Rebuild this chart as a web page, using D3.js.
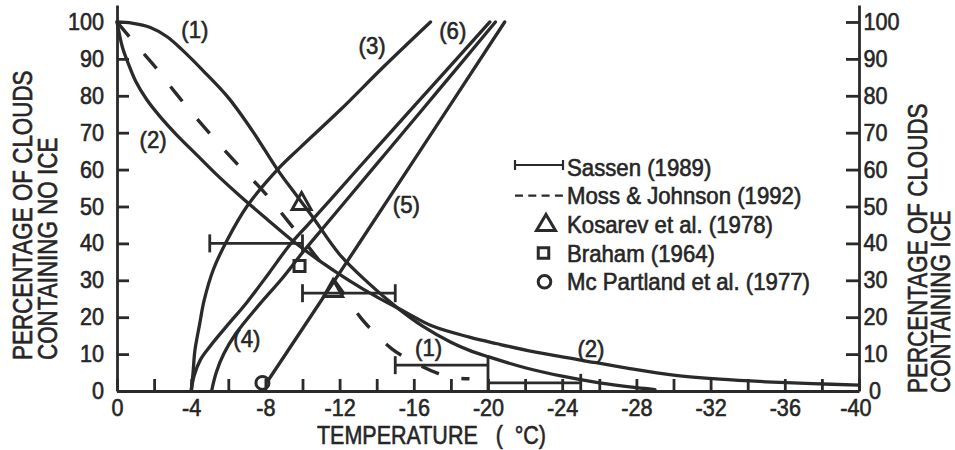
<!DOCTYPE html>
<html>
<head>
<meta charset="utf-8">
<script src="https://cdn.jsdelivr.net/npm/d3@7"></script>
<style>
  html, body { margin: 0; padding: 0; background: #fff; }
  #chart { width: 955px; height: 450px; }
  text { font-family: "Liberation Sans", Arial, Helvetica, sans-serif; fill: #262626; stroke: #262626; stroke-width: 0.6; }
</style>
</head>
<body>
<div id="chart"></div>
<script>
// [temperature °C, percentage]
const curve1 = [[0, 100], [-0.8, 99.7], [-1.8, 98.5], [-2.7, 96], [-3.5, 92.5], [-4.7, 86.5], [-6, 79.5], [-7.3, 70.5], [-8.65, 60], [-9.6, 53.5], [-10.5, 47.5], [-12, 37], [-13.5, 29.5], [-15, 23], [-16.5, 17.5], [-18, 13.2], [-19, 11], [-20, 9.3], [-22, 6.3], [-24, 4], [-26, 2.2], [-28, 0.9], [-29, 0.4]]
const curve2 = [[0, 100], [-0.3, 93], [-0.55, 89.5], [-1, 84], [-1.6, 79], [-2.3, 74.5], [-3.2, 69.5], [-4.3, 64], [-5.4, 58.5], [-6.6, 53], [-8.1, 46.5], [-9.4, 41], [-11, 35], [-12.5, 30], [-14, 25.5], [-15.5, 21.5], [-17, 17.6], [-19, 14.6], [-20.5, 12.8], [-22.5, 10.6], [-25, 8.4], [-27.5, 6.2], [-30, 4.3], [-32.5, 3.2], [-35, 2.5], [-37.5, 2], [-40, 1.6]]
const curve3 = [[-4, 0], [-4.1, 5], [-4.2, 11], [-4.45, 18], [-4.7, 24.6], [-5.2, 33], [-5.95, 41], [-7, 50], [-8.65, 60], [-9.9, 66.1], [-12, 76], [-14.4, 88], [-16.9, 100]]
const curve4 = [[-5.1, 0], [-5.35, 5], [-5.75, 10], [-6.4, 15.5], [-7.6, 23], [-8.9, 30.5], [-10, 37.5], [-11.2, 44.7], [-12.6, 53.1], [-14.5, 64.5], [-16.5, 76.5], [-18.5, 88.5], [-20.4, 100]]
const curve5 = [[-8.1, 2.5], [-12, 32], [-16, 62.5], [-20.9, 100]]
const curve6 = [[-4, 0], [-4.15, 4], [-4.5, 8.5], [-5, 12], [-5.9, 17.5], [-7, 24], [-8.2, 32], [-9.3, 39.5], [-10.3, 45.1], [-11.5, 51.8], [-13, 60.3], [-15, 71.5], [-17, 82.7], [-20.1, 100]]
const mossJohnson = [[0, 100], [-1, 94], [-2.2, 87], [-3.2, 80.5], [-4.7, 71.5], [-6.3, 62.5], [-8, 53.5], [-9.3, 45.5], [-10.8, 36], [-12, 28], [-13.2, 19.5], [-14.8, 11.5], [-16.3, 7], [-17.3, 4.8], [-18.2, 3.6], [-19, 3.3]]

// Sassen (1989) temperature ranges
const sassenFrom = [-5, -10, -15, -20]
const sassenTo = [-10, -15, -20, -25]
const sassenPct = [40, 26.5, 7, 2.2]

const kosarevT = [-9.95, -11.65]
const kosarevPct = [51.5, 27.9]
const brahamT = [-9.84]
const brahamPct = [33.9]
const mcPartlandT = [-7.84]
const mcPartlandPct = [2.2]

const curveLabels = ["(1)", "(2)", "(3)", "(4)", "(5)", "(6)", "(1)", "(2)"]
const curveLabelT = [-4.2, -1.95, -13.75, -7.0, -15.6, -18.1, -16.8, -25.55]
const curveLabelPct = [97.3, 67.5, 93, 13.6, 49.9, 97, 11.1, 10.8]

const legendNames = ["Sassen (1989)", "Moss & Johnson (1992)", "Kosarev et al. (1978)", "Braham (1964)", "Mc Partland et al. (1977)"]

const xTicks = d3.range(0, -41, -2)
const yTicks = d3.range(0, 101, 10)

const ink = "#2a2a2a"

const svg = d3.select("#chart").append("svg").attr("width", 955).attr("height", 450)

const x = d3.scaleLinear().domain([0, -40]).range([117, 859])
const y = d3.scaleLinear().domain([0, 104.6]).range([391, 5])

function addText(parent, px, py, str, size, sx, anchor, rotate) {
    const g = parent.append("g")
        .attr("transform", `translate(${px},${py})` + (rotate ? ` rotate(${rotate})` : "") + ` scale(${sx},1)`)
    return g.append("text").attr("text-anchor", anchor).attr("font-size", size).text(str)
}

//axes
const bottomAxis = svg.append("g").attr("transform", `translate(0,${y(0)})`)
    .call(d3.axisBottom(x).tickValues(xTicks).tickSize(-12).tickSizeOuter(0).tickPadding(8)
        .tickFormat(d => d % 4 === 0 ? String(d) : ""))
const leftAxis = svg.append("g").attr("transform", `translate(${x(0)},0)`)
    .call(d3.axisLeft(y).tickValues(yTicks).tickSize(-12).tickSizeOuter(0).tickPadding(14).tickFormat(d => String(d)))
const rightAxis = svg.append("g").attr("transform", `translate(${x(-40)},0)`)
    .call(d3.axisRight(y).tickValues(yTicks).tickSize(-13).tickSizeOuter(0).tickPadding(5).tickFormat(d => String(d)))

for (const ax of [bottomAxis, leftAxis, rightAxis]) {
    ax.attr("color", ink).attr("font-family", null).attr("font-size", null)
    ax.selectAll("path, line").attr("stroke-width", 2.8)
    ax.selectAll("text").attr("font-size", 23.5).attr("transform", "scale(0.92,1)")
}
// "-40" and the right "0" sit corner to corner, as in the original
bottomAxis.selectAll(".tick").filter(d => d === -40).select("text").attr("x", -4)
rightAxis.selectAll(".tick").filter(d => d === 0).select("text").attr("x", 11)

//curves
const line = d3.line().x(d => x(d[0])).y(d => y(d[1])).curve(d3.curveCatmullRom.alpha(0.5))
const curves = [curve1, curve2, curve3, curve4, curve5, curve6]

svg.append("g").selectAll("path")
    .data(curves)
    .join("path")
    .attr("d", line)
    .attr("fill", "none")
    .attr("stroke", ink)
    .attr("stroke-width", 3.3)
    .attr("stroke-linecap", "round")

svg.append("path")
    .attr("d", line(mossJohnson))
    .attr("fill", "none")
    .attr("stroke", ink)
    .attr("stroke-width", 3.4)
    .attr("stroke-dasharray", "19,23")

//sassen error bars
const sassen = sassenPct.map((p, i) => ({ p, a: sassenFrom[i], b: sassenTo[i] }))
const bars = svg.append("g").attr("stroke", ink).attr("stroke-width", 2.8)
bars.selectAll(".bar").data(sassen).join("line")
    .attr("x1", d => x(d.a)).attr("x2", d => x(d.b))
    .attr("y1", d => y(d.p)).attr("y2", d => y(d.p))
bars.selectAll(".capA").data(sassen).join("line")
    .attr("x1", d => x(d.a)).attr("x2", d => x(d.a))
    .attr("y1", d => y(d.p) - 9).attr("y2", d => y(d.p) + 9)
bars.selectAll(".capB").data(sassen).join("line")
    .attr("x1", d => x(d.b)).attr("x2", d => x(d.b))
    .attr("y1", d => y(d.p) - 9).attr("y2", d => y(d.p) + 9)

//markers
const tri = (cx, cy, w, h) => `M${cx},${cy - h / 2}L${cx + w / 2},${cy + h / 2}L${cx - w / 2},${cy + h / 2}Z`
const sq = (cx, cy, s) => `M${cx - s / 2},${cy - s / 2}h${s}v${s}h${-s}Z`

const marks = svg.append("g").attr("fill", "none").attr("stroke", ink).attr("stroke-width", 3)
marks.selectAll(".tri").data(kosarevT).join("path")
    .attr("d", (d, i) => tri(x(d), y(kosarevPct[i]), 19, 17))
marks.selectAll(".sq").data(brahamT).join("path")
    .attr("d", (d, i) => sq(x(d), y(brahamPct[i]), 11))
marks.selectAll(".circ").data(mcPartlandT).join("circle")
    .attr("cx", d => x(d)).attr("cy", (d, i) => y(mcPartlandPct[i])).attr("r", 6.5)

//curve labels
curveLabels.forEach((t, i) => {
    addText(svg, x(curveLabelT[i]), y(curveLabelPct[i]) + 6, t, 23, 0.965, "middle")
})

//legend
const lg = svg.append("g")
const legX = 515, legW = 48, textX = 567, rowY0 = 167, rowGap = 28.7
const lgRow = i => rowY0 + i * rowGap
const lgLines = lg.append("g").attr("stroke", ink).attr("fill", "none")
lgLines.append("line").attr("x1", legX).attr("x2", legX + legW).attr("y1", lgRow(0) - 2).attr("y2", lgRow(0) - 2).attr("stroke-width", 2.2)
lgLines.append("line").attr("x1", legX).attr("x2", legX).attr("y1", lgRow(0) - 7).attr("y2", lgRow(0) + 3).attr("stroke-width", 2.2)
lgLines.append("line").attr("x1", legX + legW).attr("x2", legX + legW).attr("y1", lgRow(0) - 7).attr("y2", lgRow(0) + 3).attr("stroke-width", 2.2)
lgLines.append("line").attr("x1", legX).attr("x2", legX + legW).attr("y1", lgRow(1)).attr("y2", lgRow(1))
    .attr("stroke-width", 2.2).attr("stroke-dasharray", "8,5.3")
lgLines.append("path").attr("d", tri(546, lgRow(2) - 2, 19, 16)).attr("stroke-width", 3)
lgLines.append("path").attr("d", sq(543.5, lgRow(3), 10.5)).attr("stroke-width", 3)
lgLines.append("circle").attr("cx", 544.5).attr("cy", lgRow(4)).attr("r", 6.3).attr("stroke-width", 3)

legendNames.forEach((n, i) => {
    addText(lg, textX, lgRow(i) + 8.5, n, 23, 0.965, "start")
})

//axis titles
addText(svg, 32, 360, "PERCENTAGE OF CLOUDS", 27, 0.83, "start", -90)
addText(svg, 57, 360, "CONTAINING NO ICE", 27, 0.83, "start", -90)
addText(svg, 927, 393, "PERCENTAGE OF CLOUDS", 27, 0.83, "start", -90)
addText(svg, 950, 393, "CONTAINING ICE", 27, 0.83, "start", -90)
addText(svg, 317, 444, "TEMPERATURE\u00a0\u00a0\u00a0(\u00a0\u00a0°C)", 25, 0.86, "start")
</script>
</body>
</html>
